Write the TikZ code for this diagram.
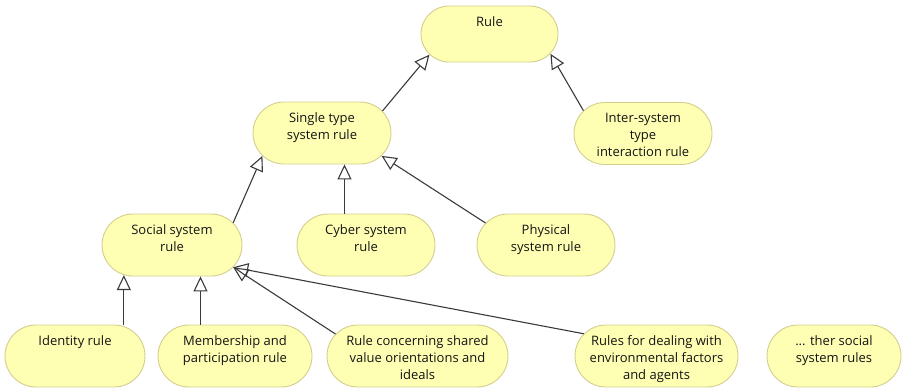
\documentclass[tikz,border=0pt]{standalone}
\usepackage{fontspec}
\setmainfont{Open Sans}
\usetikzlibrary{shapes.misc,arrows.meta}
\definecolor{boxfill}{HTML}{FFFFB4}
\definecolor{boxline}{HTML}{D2CE8E}
\definecolor{linkcol}{HTML}{3A3A3A}
\definecolor{txtcol}{HTML}{141414}
\tikzset{
  rulebox/.style={rounded rectangle, draw=boxline, fill=boxfill, line width=0.9pt,
    minimum height=62pt, inner sep=0pt},
  lbl/.style={anchor=north, inner sep=0pt, yshift=-11pt, align=center,
    text=txtcol, font=\fontsize{13}{17}\selectfont},
  gen/.style={draw=linkcol, line width=1.1pt,
    -{Triangle[open,length=15pt,width=14pt,line width=1.1pt]}},
}
\begin{document}
\begin{tikzpicture}[x=1pt,y=-1pt]
\useasboundingbox (0,0) rectangle (903,389);

% top level
\node[rulebox, minimum width=137pt, minimum height=56pt, label={[lbl]north:Rule}] (rule) at (489.5,34) {};

% second level
\node[rulebox, minimum width=138pt, label={[lbl]north:Single type\\system rule}] (single) at (322,133) {};
\node[rulebox, minimum width=138pt, label={[lbl]north:Inter-system\\type\\interaction rule}] (inter) at (643,133.5) {};

% third level
\node[rulebox, minimum width=140pt, label={[lbl]north:Social system\\rule}] (social) at (172,245) {};
\node[rulebox, minimum width=138pt, label={[lbl]north:Cyber system\\rule}] (cyber) at (366,245) {};
\node[rulebox, minimum width=138pt, label={[lbl]north:Physical\\system rule}] (physical) at (546,245) {};

% fourth level
\node[rulebox, minimum width=140pt, label={[lbl]north:Identity rule}] (identity) at (75,356) {};
\node[rulebox, minimum width=154pt, label={[lbl]north:Membership and\\participation rule}] (member) at (235,356) {};
\node[rulebox, minimum width=181pt, label={[lbl]north:Rule concerning shared\\value orientations and\\ideals}] (concern) at (417.5,356) {};
\node[rulebox, minimum width=163pt, label={[lbl]north:Rules for dealing with\\environmental factors\\and agents}] (dealing) at (656.5,356) {};
\node[rulebox, minimum width=134pt, label={[lbl]north:... ther social\\system rules}] (other) at (834,356) {};

% attachment points of the vertical links
\coordinate (cybertip) at ([xshift=22.5pt]single.south);
\coordinate (membertip) at ([xshift=28.5pt]social.south);

% generalisation links
\draw[gen] (single.20) -- (rule.199);
\draw[gen] (inter.159) -- (rule.342);
\draw[gen] (social.20) -- (single.201);
\draw[gen] (cyber.north -| cybertip) -- (cybertip);
\draw[gen] (physical.160) -- (single.339);
\draw[gen] (identity.north -| social.212) -- (social.212);
\draw[gen] (member.north -| membertip) -- (membertip);
\draw[gen] (concern.165) -- (social.340);
\draw[gen] (dealing.163) -- (social.340);
\end{tikzpicture}
\end{document}
